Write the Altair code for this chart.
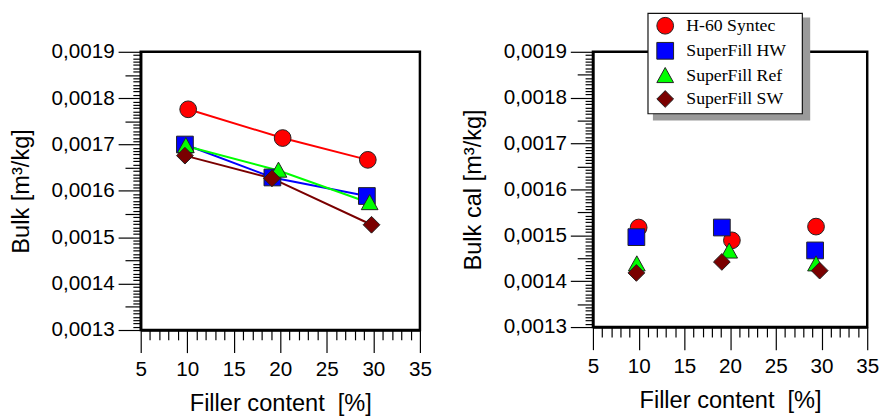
import altair as alt
import pandas as pd

# ---- data ----
series = ["H-60 Syntec", "SuperFill HW", "SuperFill Ref", "SuperFill SW"]
colors = ["#ff0000", "#0000ff", "#00ff00", "#7a0000"]
shapes = ["circle", "square", "M0,-1L1,0.8L-1,0.8Z", "diamond"]
sizes = [290, 290, 330, 400]

# left panel: Bulk
bulk_x_h60 = [10.1, 20.25, 29.4]
bulk_y_h60 = [0.001776, 0.001714, 0.001667]
bulk_x_hw = [9.75, 19.15, 29.3]
bulk_y_hw = [0.001700, 0.001629, 0.001589]
bulk_x_ref = [9.85, 19.8, 29.6]
bulk_y_ref = [0.001697, 0.001644, 0.001574]
bulk_x_sw = [9.75, 19.1, 29.8]
bulk_y_sw = [0.001676, 0.001627, 0.001527]

# right panel: Bulk cal
cal_x_h60 = [10.0, 20.2, 29.4]
cal_y_h60 = [0.001517, 0.001489, 0.001519]
cal_x_hw = [9.75, 19.1, 29.3]
cal_y_hw = [0.001496, 0.001517, 0.001467]
cal_x_ref = [9.8, 19.9, 29.4]
cal_y_ref = [0.001437, 0.001465, 0.001437]
cal_x_sw = [9.75, 19.1, 29.8]
cal_y_sw = [0.001418, 0.001442, 0.001423]

x_domain = [5, 35]
y_domain = [0.0013, 0.0019]


def frame(xs, ys):
    rows = []
    for s, xv, yv in zip(series, xs, ys):
        for a, b in zip(xv, yv):
            rows.append({"series": s, "x": a, "y": b})
    return pd.DataFrame(rows)


bulk = frame([bulk_x_h60, bulk_x_hw, bulk_x_ref, bulk_x_sw],
             [bulk_y_h60, bulk_y_hw, bulk_y_ref, bulk_y_sw])
cal = frame([cal_x_h60, cal_x_hw, cal_x_ref, cal_x_sw],
            [cal_y_h60, cal_y_hw, cal_y_ref, cal_y_sw])

x_ticks = list(range(5, 36))
y_ticks = [round(0.0013 + i * 0.0001 / 14, 10) for i in range(85)]

is_major_y = "abs(datum.value*1e4 - round(datum.value*1e4)) < 1e-3"
is_mid_y = "abs(datum.value*2e4 - round(datum.value*2e4)) < 1e-3"


def x_axis():
    return alt.Axis(
        values=x_ticks,
        title="Filler content\u00a0 [%]",
        labelExpr="datum.value % 5 == 0 ? datum.label : ''",
        tickSize={"condition": {"test": "datum.value % 5 == 0", "value": 23}, "value": 10},
        labelPadding=6,
        titlePadding=13,
        labelOverlap=False,
        labelFlush=False,
        grid=False,
    )


def y_axis(title):
    return alt.Axis(
        values=y_ticks,
        title=title,
        labelExpr=is_major_y + " ? replace(format(datum.value, '.4f'), '.', ',') : ''",
        tickSize={"condition": [{"test": is_major_y, "value": 23},
                                {"test": is_mid_y, "value": 16}], "value": 8},
        labelPadding=4,
        titlePadding=18,
        labelOverlap=False,
        labelFlush=False,
        grid=False,
    )


color_scale = alt.Scale(domain=series, range=colors)
shape_scale = alt.Scale(domain=series, range=shapes)
size_scale = alt.Scale(domain=series, range=sizes)


def points(df, title, legend):
    return alt.Chart(df).mark_point(filled=True, opacity=1, stroke="#222", strokeWidth=1).encode(
        x=alt.X("x:Q", scale=alt.Scale(domain=x_domain, nice=False, zero=False), axis=x_axis()),
        y=alt.Y("y:Q", scale=alt.Scale(domain=y_domain, nice=False, zero=False), axis=y_axis(title)),
        color=alt.Color("series:N", scale=color_scale, sort=series, legend=legend),
        shape=alt.Shape("series:N", scale=shape_scale, sort=series, legend=legend),
        size=alt.Size("series:N", scale=size_scale, sort=series, legend=None),
        order=alt.Order("order:Q"),
    ).transform_calculate(order="indexof(" + str(series) + ", datum.series)")


lines = alt.Chart(bulk).mark_line(strokeWidth=2).encode(
    x=alt.X("x:Q", scale=alt.Scale(domain=x_domain, nice=False, zero=False), axis=x_axis()),
    y=alt.Y("y:Q", scale=alt.Scale(domain=y_domain, nice=False, zero=False), axis=y_axis("Bulk [m³/kg]")),
    color=alt.Color("series:N", scale=color_scale, sort=series, legend=None),
    detail="series:N",
    order="x:Q",
)

left = alt.layer(lines, points(bulk, "Bulk [m³/kg]", None)).properties(width=284, height=283)

legend = alt.Legend(
    orient="none", legendX=64, legendY=-36, title=None, zindex=1,
    padding=0, rowPadding=2.5,
    symbolSize=324, symbolStrokeColor="#222", symbolStrokeWidth=1,
    labelOffset=12,
    labelFont="Liberation Serif", labelFontSize=18, labelColor="black",
)

one = pd.DataFrame({"s": [0]})
shadow = alt.Chart(one).mark_rect(color="#9a9a9a").encode(
    x=alt.value(61), x2=alt.value(221), y=alt.value(-35), y2=alt.value(70)
)
box = alt.Chart(one).mark_rect(fill="white", stroke="#111", strokeWidth=1.2).encode(
    x=alt.value(56), x2=alt.value(213), y=alt.value(-39), y2=alt.value(63)
)

right = alt.layer(shadow, box, points(cal, "Bulk cal [m³/kg]", legend)).properties(width=279, height=280)

chart = alt.hconcat(left, right, spacing=176, bounds="flush").resolve_scale(
    color="independent", shape="independent", size="independent"
).resolve_legend(
    color="independent", shape="independent", size="independent"
).properties(
    padding={"left": 0, "top": 0, "right": 0, "bottom": 0}
).configure_view(
    stroke="black", strokeWidth=2.5
).configure_axis(
    domainColor="black", domainWidth=2.5, tickColor="black", tickWidth=1.2,
    labelFont="Liberation Sans", labelFontSize=21, labelColor="black",
    titleFont="Liberation Sans", titleFontSize=24, titleFontWeight="normal", titleColor="black",
)

chart.save("out.html", embed_options={"renderer": "svg", "actions": False})
